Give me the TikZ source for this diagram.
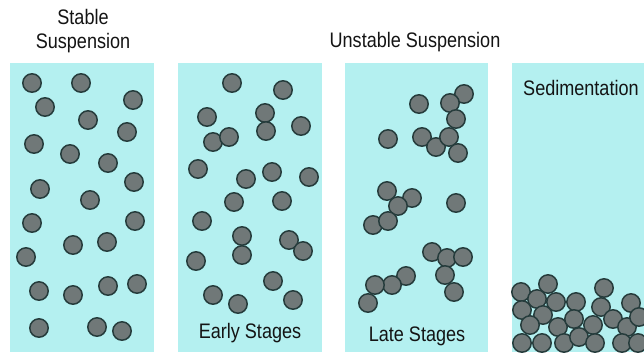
\documentclass[tikz,border=0pt]{standalone}
\usepackage{fontspec}
\usepackage{graphicx}
\setmainfont{Liberation Sans}
\definecolor{liquid}{RGB}{180,240,240}
\definecolor{grain}{RGB}{112,120,120}
\definecolor{grainedge}{RGB}{38,60,60}
\newcommand{\squash}[1]{\scalebox{0.86}[1]{#1}}
\begin{document}
\begin{tikzpicture}[
    x=1pt, y=-1pt,
    bassin/.style={fill=liquid, draw=none},
    particle/.style={fill=grain, draw=grainedge, line width=1.5pt},
    legende/.style={font=\fontsize{21}{24}\selectfont, text=black!92, inner sep=0pt}
]

% Cadre de l'image
\useasboundingbox (0,0) rectangle (644,357);
\fill[white] (0,0) rectangle (644,357);

% Les quatre bassins
\fill[bassin] (10,63) rectangle (154,352);
\fill[bassin] (178,63) rectangle (322,352);
\fill[bassin] (345,63) rectangle (488,352);
\fill[bassin] (512,63) rectangle (644,352);

% Titres
\node[legende, align=center] (stable) at (83,31) {\squash{Stable}\\\squash{Suspension}};
\node[legende] (instable) at (415,42) {\squash{Unstable Suspension}};
\node[legende, anchor=west] (sedim) at (523,88) {\squash{Sedimentation}};
\node[legende] (precoce) at (250,333) {\squash{Early Stages}};
\node[legende] (tardif) at (417,336) {\squash{Late Stages}};

% Suspension stable
\foreach \x/\y in {32/83, 81/83, 45/107, 133/100, 88/120, 127/132, 34/144, 70/154,
    108/163, 40/189, 134/182, 90/200, 32/223, 135/221, 73/245, 107/242, 26/257,
    39/291, 73/295, 108/286, 137/284, 39/328, 97/327, 122/331}
    \draw[particle] (\x,\y) circle (9.2pt);

% Premiers stades
\foreach \x/\y in {232/83, 283/90, 207/117, 265/113, 213/142, 229/137, 266/131, 301/126,
    198/169, 246/179, 272/172, 309/177, 234/202, 282/201, 202/221, 242/236, 289/240,
    242/255, 303/251, 196/261, 273/281, 213/295, 238/304, 293/300}
    \draw[particle] (\x,\y) circle (9.2pt);

% Stades avancés
\foreach \x/\y in {419/104, 464/94, 450/103, 456/119, 388/139, 422/137, 436/147, 449/137,
    458/153, 387/191, 412/198, 398/206, 456/203, 373/225, 388/221, 432/252, 447/258,
    463/257, 445/275, 454/292, 406/276, 392/285, 375/285, 368/303}
    \draw[particle] (\x,\y) circle (9.2pt);

% Sédimentation
\foreach \x/\y in {521/292, 548/284, 537/299, 556/302, 576/302, 604/288, 601/307, 631/303,
    522/310, 543/315, 530/325, 558/327, 574/319, 593/325, 613/319, 627/327, 639/317,
    522/343, 542/343, 564/343, 579/337, 595/343, 622/343, 638/343}
    \draw[particle] (\x,\y) circle (9.2pt);

\end{tikzpicture}
\end{document}
